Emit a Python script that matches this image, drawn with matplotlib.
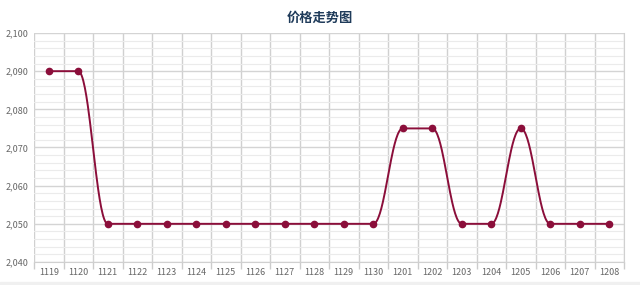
import numpy as np
import matplotlib
matplotlib.use("Agg")
import matplotlib.pyplot as plt
from matplotlib.ticker import FuncFormatter, MultipleLocator, FixedLocator

plt.rcParams['font.family'] = ['Noto Sans CJK SC', 'DejaVu Sans']

title = "价格走势图"
categories = ["1119", "1120", "1121", "1122", "1123", "1124", "1125", "1126", "1127", "1128",
              "1129", "1130", "1201", "1202", "1203", "1204", "1205", "1206", "1207", "1208"]
prices = [2.090, 2.090, 2.050, 2.050, 2.050, 2.050, 2.050, 2.050, 2.050, 2.050,
          2.050, 2.050, 2.075, 2.075, 2.050, 2.050, 2.075, 2.050, 2.050, 2.050]

line_color = "#8b0e3a"

fig = plt.figure(figsize=(6.4, 2.85), dpi=100)
ax = fig.add_axes([34/640, 23/285, 590/640, 229/285])

x = np.arange(len(categories))
y = np.array(prices)

# Highcharts-like spline: horizontal tangents, control points at 0.4 of each interval
xs, ys = [], []
t = np.linspace(0, 1, 40)
for i in range(len(x) - 1):
    x0, y0, x3, y3 = x[i], y[i], x[i+1], y[i+1]
    dx = x3 - x0
    x1, y1 = x0 + 0.4*dx, y0
    x2, y2 = x3 - 0.4*dx, y3
    bx = (1-t)**3*x0 + 3*(1-t)**2*t*x1 + 3*(1-t)*t**2*x2 + t**3*x3
    by = (1-t)**3*y0 + 3*(1-t)**2*t*y1 + 3*(1-t)*t**2*y2 + t**3*y3
    xs.extend(bx); ys.extend(by)

ax.plot(xs, ys, color=line_color, lw=1.4, zorder=3, solid_capstyle='round')
ax.plot(x, y, 'o', color=line_color, ms=4.5, zorder=4)

ax.set_xlim(-0.5, len(categories) - 0.5)
ax.set_ylim(2.040, 2.100)

def yfmt(v, p):
    n = int(round(v * 1000))
    return "{:d},{:03d}".format(n // 1000, n % 1000)

ax.yaxis.set_major_locator(MultipleLocator(0.010))
ax.yaxis.set_minor_locator(MultipleLocator(0.002))
ax.yaxis.set_major_formatter(FuncFormatter(yfmt))
ax.grid(which='major', axis='y', color='#d4d4d4', lw=1.0, zorder=0)
ax.grid(which='minor', axis='y', color='#ebebeb', lw=0.8, zorder=0)

ax.xaxis.set_major_locator(FixedLocator(np.arange(-0.5, len(categories), 1.0)))
ax.xaxis.set_major_formatter(FuncFormatter(lambda v, p: ""))
ax.set_xticks(x, minor=True)
ax.set_xticklabels(categories, minor=True)
ax.grid(which='major', axis='x', color='#d0d0d0', lw=1.0, zorder=0)
ax.tick_params(axis='x', which='major', length=5, color='#cccccc', width=1.0)
ax.tick_params(axis='x', which='minor', length=0, labelsize=6.5, labelcolor='#666666', pad=4)
ax.tick_params(axis='y', which='major', length=0, labelsize=6.5, labelcolor='#666666', pad=4)
ax.tick_params(axis='y', which='minor', length=0)

for s in ax.spines.values():
    s.set_visible(False)
ax.spines['bottom'].set_visible(True)
ax.spines['bottom'].set_color('#d0d0d0')
ax.spines['right'].set_visible(True)
ax.spines['right'].set_color('#d0d0d0')

fig.text(0.5, 1 - 18/285, title, ha='center', va='center', fontsize=9.5,
         fontweight='bold', color='#1f3b5a')

fig.patches.append(plt.Rectangle((0, 0), 1, 3/285, transform=fig.transFigure,
                                 color='#f0f0f0', zorder=0))

fig.savefig("out.png", dpi=100)
